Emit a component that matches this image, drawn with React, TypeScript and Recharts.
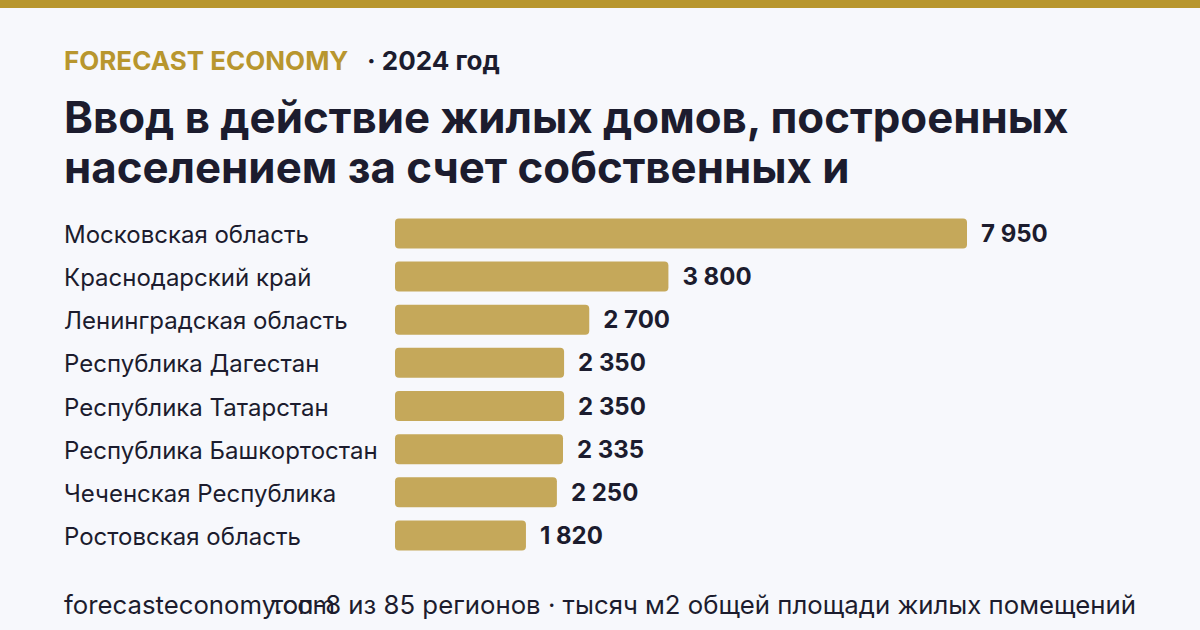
import React from 'react';
import { BarChart, Bar, XAxis, YAxis, LabelList } from 'recharts';

const regions = [
  'Московская область',
  'Краснодарский край',
  'Ленинградская область',
  'Республика Дагестан',
  'Республика Татарстан',
  'Республика Башкортостан',
  'Чеченская Республика',
  'Ростовская область',
];

const values = [7950, 3800, 2700, 2350, 2350, 2335, 2250, 1820];

const brand = 'FORECAST ECONOMY';
const yearLabel = '· 2024 год';
const titleLines = [
  'Ввод в действие жилых домов, построенных',
  'населением за счет собственных и',
];
const footerLeft = 'forecasteconomy.com';
const footerRight = 'топ-8 из 85 регионов · тысяч м2 общей площади жилых помещений';

const data = regions.map((name, i) => ({ name, value: values[i] }));

const FONT = 'Inter, "Noto Sans", sans-serif';
const DARK = '#1c1c2e';
const GOLD = '#b8962e';
const BAR = '#c5a85a';

const fmt = (v: number) => String(v).replace(/\B(?=(\d{3})+(?!\d))/g, ' ');

const RegionTick = (props: any) => {
  const { y, payload } = props;
  return (
    <text x={64} y={y} dy={10} textAnchor="start" fontFamily={FONT} fontSize={24} fill={DARK}>
      {payload.value}
    </text>
  );
};

export default function App() {
  React.useEffect(() => {
    document.body.style.margin = '0';
  }, []);
  return (
    <div
      style={{
        position: 'absolute',
        left: 0,
        top: 0,
        width: 1200,
        height: 630,
        background: '#f7f8fc',
        overflow: 'hidden',
      }}
    >
      <div style={{ position: 'absolute', left: 0, top: 0, width: 1200, height: 8, background: GOLD }} />
      <BarChart
        width={1200}
        height={630}
        data={data}
        layout="vertical"
        margin={{ top: 211.4, right: 233, bottom: 73.4, left: 0 }}
        style={{ position: 'absolute', left: 0, top: 0 }}
      >
        <XAxis type="number" domain={[0, 7950]} hide />
        <YAxis
          type="category"
          dataKey="name"
          width={395}
          axisLine={false}
          tickLine={false}
          tick={<RegionTick />}
          interval={0}
        />
        <Bar dataKey="value" fill={BAR} barSize={30} radius={4} isAnimationActive={false}>
          <LabelList
            dataKey="value"
            position="right"
            offset={14}
            formatter={(v: any) => fmt(Number(v))}
            style={{ fontFamily: FONT, fontSize: 24, fontWeight: 700, fill: DARK }}
          />
        </Bar>
      </BarChart>
      <svg width={1200} height={630} style={{ position: 'absolute', left: 0, top: 0, pointerEvents: 'none' }}>
        <text x={64} y={70} fontFamily={FONT} fontSize={26} fontWeight={700} fill={GOLD}>
          {brand}
        </text>
        <text x={367} y={70} fontFamily={FONT} fontSize={26} fontWeight={700} fill={DARK}>
          {yearLabel}
        </text>
        {titleLines.map((t, i) => (
          <text key={i} x={64} y={133 + i * 50} fontFamily={FONT} fontSize={43.8} fontWeight={700} fill={DARK}>
            {t}
          </text>
        ))}
        <text x={64} y={614} fontFamily={FONT} fontSize={25.75} fill={DARK}>
          {footerLeft}
        </text>
        <text x={1136} y={614} textAnchor="end" fontFamily={FONT} fontSize={25.75} fill={DARK}>
          {footerRight}
        </text>
      </svg>
    </div>
  );
}
